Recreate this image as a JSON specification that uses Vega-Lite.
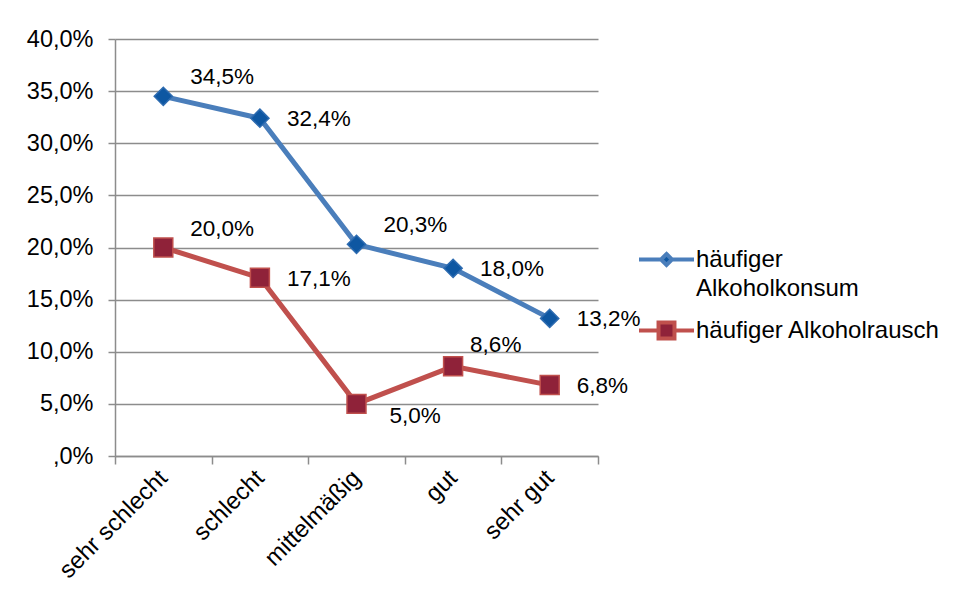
{
  "$schema": "https://vega.github.io/schema/vega-lite/v6.json",
  "width": 483,
  "height": 417,
  "autosize": "none",
  "padding": {"left": 115, "top": 39, "right": 357, "bottom": 145},
  "background": "white",
  "config": {
    "view": {"stroke": null},
    "font": "Liberation Sans",
    "axis": {"labelFont": "Liberation Sans", "labelColor": "#000000", "domainColor": "#8c8c8c", "tickColor": "#8c8c8c", "gridColor": "#8c8c8c", "title": null}
  },
  "data": {
    "values": [
      {"k": "sehr schlecht", "s": "häufiger Alkoholkonsum", "v": 34.5},
      {"k": "schlecht", "s": "häufiger Alkoholkonsum", "v": 32.4},
      {"k": "mittelmäßig", "s": "häufiger Alkoholkonsum", "v": 20.3},
      {"k": "gut", "s": "häufiger Alkoholkonsum", "v": 18.0},
      {"k": "sehr gut", "s": "häufiger Alkoholkonsum", "v": 13.2},
      {"k": "sehr schlecht", "s": "häufiger Alkoholrausch", "v": 20.0},
      {"k": "schlecht", "s": "häufiger Alkoholrausch", "v": 17.1},
      {"k": "mittelmäßig", "s": "häufiger Alkoholrausch", "v": 5.0},
      {"k": "gut", "s": "häufiger Alkoholrausch", "v": 8.6},
      {"k": "sehr gut", "s": "häufiger Alkoholrausch", "v": 6.8}
    ]
  },
  "transform": [
    {"calculate": "replace(format(datum.v, '.1f'), '.', ',') + '%'", "as": "lab"},
    {"calculate": "(datum.s == 'häufiger Alkoholkonsum' ? 'b' : 'r') + '|' + datum.k", "as": "key"}
  ],
  "encoding": {
    "x": {
      "field": "k", "type": "nominal", "sort": null, "bandPosition": 0.5,
      "scale": {"type": "band", "paddingInner": 0, "paddingOuter": 0,
        "domain": ["sehr schlecht", "schlecht", "mittelmäßig", "gut", "sehr gut"]},
      "axis": {"labelAngle": -45, "labelFontSize": 24, "labelAlign": "right", "labelBaseline": "middle", "tickBand": "extent", "tickSize": 8, "labelPadding": 10, "grid": false, "domainWidth": 1.5, "tickWidth": 1.5}
    },
    "y": {
      "field": "v", "type": "quantitative",
      "scale": {"domain": [0, 40]},
      "axis": {"values": [0, 5, 10, 15, 20, 25, 30, 35, 40], "grid": true, "gridWidth": 1.5, "domainWidth": 1.5, "tickWidth": 1.5, "tickSize": 7, "labelPadding": 15, "labelFontSize": 23.5,
        "labelExpr": "datum.value == 0 ? ',0%' : replace(format(datum.value, '.1f'), '.', ',') + '%'"}
    }
  },
  "layer": [
    {
      "mark": {"type": "line", "strokeWidth": 5},
      "encoding": {
        "color": {
          "field": "s", "type": "nominal",
          "scale": {"domain": ["häufiger Alkoholkonsum", "häufiger Alkoholrausch"], "range": ["#4a7ebb", "#c0504d"]},
          "legend": {
            "title": null, "orient": "none", "legendX": 522, "legendY": 191,
            "symbolSize": 3025, "symbolStrokeWidth": 4, "labelFontSize": 24, "labelColor": "#000000", "labelLimit": 400, "labelOffset": 0, "rowPadding": 0,
            "labelExpr": "datum.label == 'häufiger Alkoholkonsum' ? ['häufiger', 'Alkoholkonsum'] : datum.label",
            "encode": {
              "labels": {"update": {"lineHeight": {"value": 29}}},
              "symbols": {"update": {
                "shape": {"signal": "datum.value == 'häufiger Alkoholkonsum' ? 'M-1,0H-0.2M0.2,0H1M0,-0.2L0.2,0L0,0.2L-0.2,0Z' : 'M-1,0H-0.29M0.29,0H1M-0.29,-0.29H0.29V0.29H-0.29Z'"},
                "fill": {"signal": "datum.value == 'häufiger Alkoholkonsum' ? '#0e57a2' : '#8f2239'"},
                "stroke": {"signal": "datum.value == 'häufiger Alkoholkonsum' ? '#4a7ebb' : '#c0504d'"},
                "fillOpacity": {"value": 1}
              }}
            }
          }
        }
      }
    },
    {
      "mark": {"type": "point", "filled": true, "strokeWidth": 1.5, "opacity": 1},
      "encoding": {
        "shape": {"condition": {"test": "datum.s == 'häufiger Alkoholkonsum'", "value": "diamond"}, "value": "square"},
        "size": {"condition": {"test": "datum.s == 'häufiger Alkoholkonsum'", "value": 330}, "value": 360},
        "fill": {"condition": {"test": "datum.s == 'häufiger Alkoholkonsum'", "value": "#0e57a2"}, "value": "#8f2239"},
        "stroke": {"condition": {"test": "datum.s == 'häufiger Alkoholkonsum'", "value": "#2d6bb0"}, "value": "#c0504d"}
      }
    },
    {
      "transform": [{"filter": {"field": "key", "oneOf": ["b|schlecht", "b|gut", "b|sehr gut", "r|schlecht", "r|sehr gut"]}}],
      "mark": {"type": "text", "align": "left", "baseline": "middle", "dx": 27, "dy": 1, "fontSize": 22.5, "color": "#000000"},
      "encoding": {"text": {"field": "lab"}}
    },
    {
      "transform": [{"filter": {"field": "key", "oneOf": ["b|sehr schlecht", "b|mittelmäßig", "r|sehr schlecht"]}}],
      "mark": {"type": "text", "align": "left", "baseline": "middle", "dx": 27, "dy": -19, "fontSize": 22.5, "color": "#000000"},
      "encoding": {"text": {"field": "lab"}}
    },
    {
      "transform": [{"filter": {"field": "key", "oneOf": ["r|gut"]}}],
      "mark": {"type": "text", "align": "left", "baseline": "middle", "dx": 17, "dy": -21, "fontSize": 22.5, "color": "#000000"},
      "encoding": {"text": {"field": "lab"}}
    },
    {
      "transform": [{"filter": {"field": "key", "oneOf": ["r|mittelmäßig"]}}],
      "mark": {"type": "text", "align": "left", "baseline": "middle", "dx": 33, "dy": 12, "fontSize": 22.5, "color": "#000000"},
      "encoding": {"text": {"field": "lab"}}
    }
  ]
}
